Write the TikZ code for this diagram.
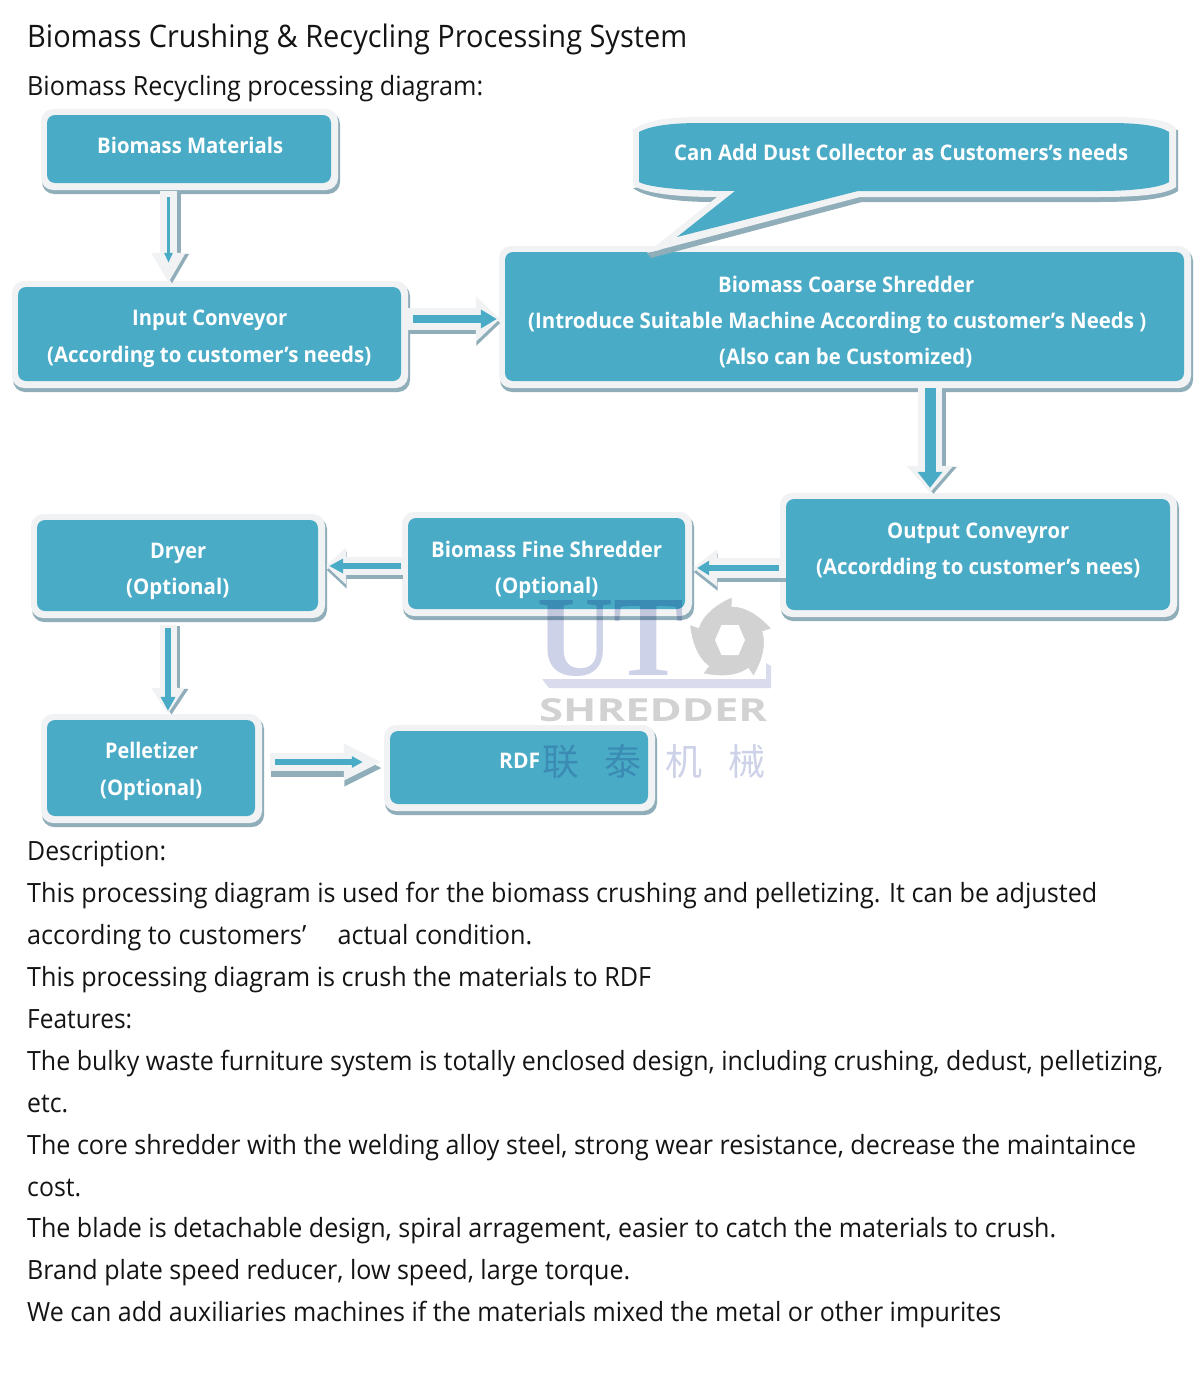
\documentclass[tikz,border=0pt]{standalone}
\usepackage{fontspec}
\usepackage{graphicx}
\setmainfont{Open Sans}
\newfontfamily\cjk{Noto Sans CJK SC}
\newfontfamily\logoserif{Liberation Serif}
\usetikzlibrary{calc,arrows.meta}
\definecolor{teal1}{HTML}{4AABC6}
\definecolor{edge1}{HTML}{F1F2F3}
\definecolor{shade1}{HTML}{8FAEB9}
\definecolor{wmblue}{HTML}{CDD2E8}
\definecolor{wmbar}{HTML}{DADCEE}
\definecolor{wmgray}{HTML}{D2D2D2}
\tikzset{
  proc/.style={rectangle,rounded corners=8pt,fill=teal1,inner sep=0pt},
  lab/.style={inner sep=0pt,anchor=base west,text=white,font=\fontsize{21.5}{21.5}\selectfont\bfseries},
  body/.style={inner sep=0pt,anchor=base west,text=black!92,font=\fontsize{26.5}{26.5}\selectfont},
  wm/.style={blend mode=multiply},
}
\newcommand{\procbox}[5]{%
  \fill[shade1,rounded corners=12pt] (#2-5,#3-3) rectangle (#4+9,#5+11);
  \fill[edge1,rounded corners=12pt] (#2-6,#3-6) rectangle (#4+7,#5+7);
  \node[proc,minimum width=#4pt-#2pt,minimum height=#5pt-#3pt] (#1) at ({(#2+#4)/2},{(#3+#5)/2}) {};
}
\newcommand{\lab}[5]{\node[lab] (#1) at (#2,#4) {\resizebox{\dimexpr#3pt-#2pt\relax}{\height}{#5}};}
\newcommand{\bodyline}[4]{\node[body] (#1) at (27,#3) {\resizebox{\dimexpr#2pt-27pt\relax}{\height}{#4}};}
% start, end, light width, light head length, light head width, teal width, teal head length, teal head width, teal options
\newcommand{\flow}[9]{%
  \draw[shade1,line width=#3pt,-{Triangle[length=#4pt,width=#5pt]}] ($#1+(\sdx,\sdy)$) -- ($#2+(\sdx,\sdy)$);
  \draw[edge1,line width=#3pt,-{Triangle[length=#4pt,width=#5pt]}] #1 -- #2;
  \draw[teal1,line width=#6pt,#9,-{Triangle[length=#7pt,width=#8pt]}] #1 -- #2;
}
\newcommand{\sdx}{3.5}
\newcommand{\sdy}{1}
\begin{document}
\begin{tikzpicture}[x=1pt,y=-1pt]
\useasboundingbox[fill=white] (0,0) rectangle (1200,1381);

% boxes
\procbox{bm}{47}{115}{331}{183}
\procbox{ic}{18}{287}{401}{381}
\procbox{cs}{505}{252}{1184}{381}
\procbox{oc}{786}{499}{1170}{610}
\procbox{fs}{408}{518}{685}{609}
\procbox{dr}{37}{520}{318}{611}
\procbox{pe}{47}{720}{255}{816}
\procbox{rd}{390}{731}{648}{804}

% speech bubble
\fill[shade1] (1150,125) -- (1178,130) -- (1178,191) .. controls (1167,199) and (1137,202) .. (1100,202)
  -- (862,202) -- (651,258) -- (647,253) -- (660,250) -- (720,200) -- (711,202)
  .. controls (680,202) and (645,198) .. (633,188) -- cycle;
\fill[edge1] (633,130) .. controls (645,120) and (670,117) .. (700,117) -- (1110,117)
  .. controls (1145,117) and (1170,120) .. (1176,128) -- (1176,187)
  .. controls (1165,195) and (1135,197) .. (1100,197) -- (860,197) -- (647,253) -- (717,197)
  .. controls (680,197) and (645,194) .. (633,185) -- cycle;
\fill[teal1] (639,132) .. controls (650,126) and (670,123) .. (700,123) -- (1110,123)
  .. controls (1140,123) and (1160,126) .. (1169,132) -- (1169,182)
  .. controls (1160,188) and (1130,191) .. (1100,191) -- (858,191) -- (677,237) -- (735,191)
  .. controls (690,191) and (650,188) .. (639,182) -- cycle;

% connectors
\renewcommand{\sdx}{3.5}\renewcommand{\sdy}{1}
\flow{($(bm.south)+(-20.5,8)$)}{($(ic.north)+(-41,-4)$)}{17}{30}{32}{3}{10}{8}{shorten <=6pt,shorten >=20pt}
\flow{($(cs.south)+(85.5,7)$)}{($(oc.north)+(-48,-6)$)}{24}{27}{45}{11}{16}{24}{shorten >=5pt}
\flow{($(dr.south)+(-9.5,14)$)}{($(pe.north)+(17,-6)$)}{17}{26}{32}{6}{14}{14}{shorten <=3pt,shorten >=3pt}
\renewcommand{\sdx}{0.5}\renewcommand{\sdy}{4}
\flow{($(ic.east)+(7,-15)$)}{($(cs.west)+(-5,2.5)$)}{22}{24}{44}{8}{16}{18}{shorten <=5pt,shorten >=3pt}
\flow{($(oc.west)+(0,13.5)$)}{($(fs.east)+(8,4.5)$)}{20}{24}{36}{6}{12}{14}{shorten <=7pt,shorten >=4pt}
\flow{($(fs.west)+(-5,2.5)$)}{($(dr.east)+(8,0.5)$)}{18}{20}{36}{6}{14}{14}{shorten <=2pt,shorten >=3pt}
\renewcommand{\sdy}{6}
\flow{($(pe.east)+(15,-6)$)}{($(rd.west)+(-8,-5.5)$)}{18}{38}{34}{6}{11}{11}{shorten <=5pt,shorten >=19pt}

% box labels
\lab{t-bm}{97}{283}{153}{Biomass Materials}
\lab{t-ic1}{132}{287}{325}{Input Conveyor}
\lab{t-ic2}{47}{371}{362}{(According to customer’s needs)}
\lab{t-bb}{674}{1128}{160}{Can Add Dust Collector as Customers’s needs}
\lab{t-cs1}{718}{974}{292}{Biomass Coarse Shredder}
\lab{t-cs2}{528}{1146}{328}{(Introduce Suitable Machine According to customer’s Needs )}
\lab{t-cs3}{719}{972}{364}{(Also can be Customized)}
\lab{t-oc1}{887}{1069}{538}{Output Conveyror}
\lab{t-oc2}{816}{1140}{574}{(Accordding to customer’s nees)}
\lab{t-fs1}{431}{662}{557}{Biomass Fine Shredder}
\lab{t-fs2}{495}{598}{593}{(Optional)}
\lab{t-dr1}{150}{206}{558}{Dryer}
\lab{t-dr2}{126}{229}{594}{(Optional)}
\lab{t-pe1}{105}{198}{758}{Pelletizer}
\lab{t-pe2}{100}{202}{795}{(Optional)}
\lab{t-rd}{499}{540}{768}{RDF}

% title and body
\node[body,font=\fontsize{31}{31}\selectfont] (title) at (27,48) {\resizebox{660pt}{\height}{Biomass Crushing \& Recycling Processing System}};
\bodyline{sub}{483}{95}{Biomass Recycling processing diagram:}
\bodyline{b1}{166}{860}{Description:}
\bodyline{b2}{1097}{902}{This processing diagram is used for the biomass crushing and pelletizing. It can be adjusted}
\bodyline{b3}{532}{944}{according to customers’\hspace{33pt}actual condition.}
\bodyline{b4}{651}{986}{This processing diagram is crush the materials to RDF}
\bodyline{b5}{132}{1028}{Features:}
\bodyline{b6}{1163}{1070}{The bulky waste furniture system is totally enclosed design, including crushing, dedust, pelletizing,}
\bodyline{b7}{68}{1112}{etc.}
\bodyline{b8}{1136}{1154}{The core shredder with the welding alloy steel, strong wear resistance, decrease the maintaince}
\bodyline{b9}{81}{1196}{cost.}
\bodyline{b10}{1056}{1237}{The blade is detachable design, spiral arragement, easier to catch the materials to crush.}
\bodyline{b11}{630}{1279}{Brand plate speed reducer, low speed, large torque.}
\bodyline{b12}{1001}{1321}{We can add auxiliaries machines if the materials mixed the metal or other impurites}

% watermark gear
\begin{scope}[shift={(730,640)}]
  \foreach \a in {2,74,146,218,290}{
    \filldraw[wmgray,line width=.5pt,rotate=-\a] (0,0) -- (-31.4,-10.2) .. controls (-27.5,-24.8) and (-14,-35) .. (0,-42) -- (0,-33) -- cycle;
  }
  \fill[white] (-15,0) -- (-8.5,-15) -- (8.5,-15) -- (15,0) -- (8.5,15) -- (-8.5,15) -- cycle;
\end{scope}
% watermark lettering
\begin{scope}[wm]
  \node[inner sep=0pt,anchor=base west,text=wmblue] (wm-ut) at (537,675) {\resizebox{147pt}{75pt}{\logoserif\bfseries UT}};
  \fill[wmbar] (542,679) -- (766,679) -- (766,663) -- (771,666) -- (771,688) -- (549,688) -- cycle;
  \node[inner sep=0pt,anchor=base west,text=wmgray] (wm-sh) at (539,721) {\resizebox{228pt}{23pt}{\bfseries SHREDDER}};
  \node[inner sep=0pt,anchor=base west,text=wmblue] (wm-c1) at (542,775) {\resizebox{37pt}{!}{\cjk 联}};
  \node[inner sep=0pt,anchor=base west,text=wmblue] (wm-c2) at (604,775) {\resizebox{37pt}{!}{\cjk 泰}};
  \node[inner sep=0pt,anchor=base west,text=wmblue] (wm-c3) at (665,775) {\resizebox{37pt}{!}{\cjk 机}};
  \node[inner sep=0pt,anchor=base west,text=wmblue] (wm-c4) at (728,775) {\resizebox{37pt}{!}{\cjk 械}};
\end{scope}
\end{tikzpicture}
\end{document}
